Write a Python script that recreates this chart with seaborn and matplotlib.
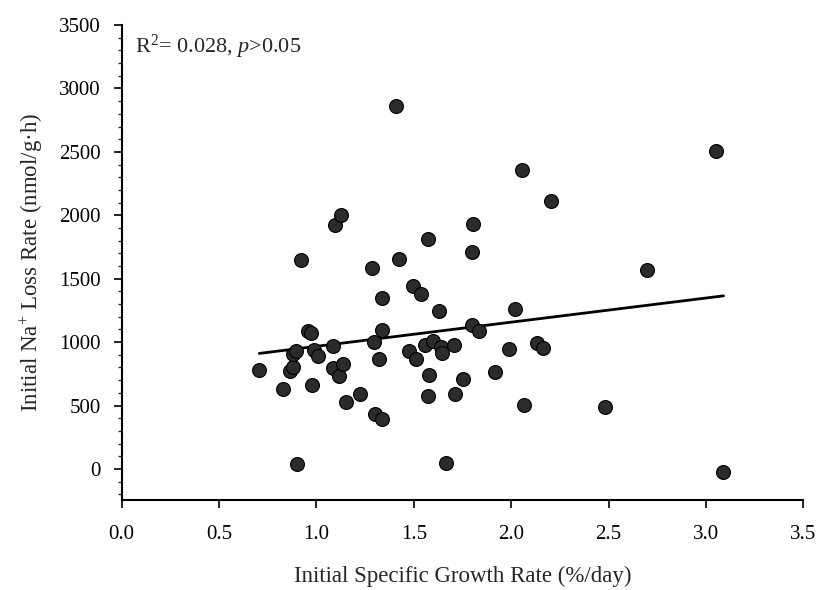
import matplotlib
matplotlib.use('Agg')
import matplotlib.pyplot as plt
from matplotlib.ticker import MultipleLocator
import seaborn as sns
import pandas as pd

# growth rate (%/day) and Na+ loss rate (nmol/g*h)
growth = [0.707, 0.827, 0.865, 0.882, 0.879, 0.896, 0.903, 0.921, 0.955, 0.970,
          0.979, 0.990, 1.010, 1.087, 1.087, 1.096, 1.118, 1.125, 1.139, 1.152,
          1.223, 1.287, 1.298, 1.301, 1.320, 1.336, 1.339, 1.339, 1.410, 1.426,
          1.477, 1.498, 1.512, 1.537, 1.556, 1.575, 1.575, 1.580, 1.601, 1.628,
          1.639, 1.644, 1.666, 1.707, 1.714, 1.751, 1.798, 1.798, 1.806, 1.837,
          1.917, 1.991, 2.020, 2.056, 2.065, 2.131, 2.165, 2.205, 2.484, 2.696,
          3.053, 3.086]
na_loss = [780, 627, 772, 801, 905, 929, 39, 1646, 1085, 1070,
           664, 937, 890, 968, 798, 1921, 732, 2000, 827, 525,
           591, 1585, 1000, 433, 864, 391, 1345, 1092, 2858, 1659,
           929, 1441, 864, 1378, 974, 1811, 575, 740, 1008, 1242,
           963, 911, 45, 974, 593, 706, 1711, 1139, 1935, 1087,
           766, 945, 1260, 2354, 502, 990, 955, 2116, 486, 1572,
           2506, -21]

# regression line end points
fit_x = [0.707, 3.09]
fit_y = [911, 1365]

x_ticks = [0.0, 0.5, 1.0, 1.5, 2.0, 2.5, 3.0, 3.5]
y_ticks = [0, 500, 1000, 1500, 2000, 2500, 3000, 3500]

df = pd.DataFrame({'growth': growth, 'na_loss': na_loss})

sns.set_theme(style='ticks')
plt.rcParams['font.family'] = ['Liberation Serif', 'DejaVu Serif']
plt.rcParams['mathtext.fontset'] = 'custom'
plt.rcParams['mathtext.rm'] = 'Liberation Serif'
plt.rcParams['mathtext.it'] = 'Liberation Serif:italic'

fig = plt.figure(figsize=(8.24, 5.90), dpi=100)
ax = fig.add_axes([0.1475, 0.1525, 0.8275, 0.805])

sns.scatterplot(data=df, x='growth', y='na_loss', ax=ax, s=100,
                color='#2b2b2b', edgecolor='black', linewidth=0.8, zorder=3)
sns.lineplot(x=fit_x, y=fit_y, ax=ax, color='black', linewidth=2, zorder=2)

ax.set_xlim(0, 3.5)
ax.set_ylim(-245, 3500)
ax.set_xticks(x_ticks)
ax.set_xticklabels([f'{v:.1f}' for v in x_ticks])
ax.set_yticks(y_ticks)
ax.yaxis.set_minor_locator(MultipleLocator(100))

sns.despine(ax=ax)
for side in ['left', 'bottom']:
    ax.spines[side].set_linewidth(1.5)
    ax.spines[side].set_color('black')

ax.tick_params(axis='both', which='major', length=6, width=1.2,
               labelsize=15, colors='black')
ax.tick_params(axis='x', pad=12)
ax.tick_params(axis='y', pad=9)
ax.tick_params(axis='y', which='minor', length=3, width=1)

ax.set_xlabel('Initial Specific Growth Rate (%/day)', fontsize=16.5, labelpad=16)
ax.set_ylabel('Initial Na$^{+}$ Loss Rate (nmol/g\u00b7h)', fontsize=16.5, labelpad=10)

ax.text(0.07, 3330, 'R$^{2}$= 0.028, $p$>0.05', fontsize=16, va='center', ha='left')

plt.savefig('out.png', dpi=100)
plt.close()
